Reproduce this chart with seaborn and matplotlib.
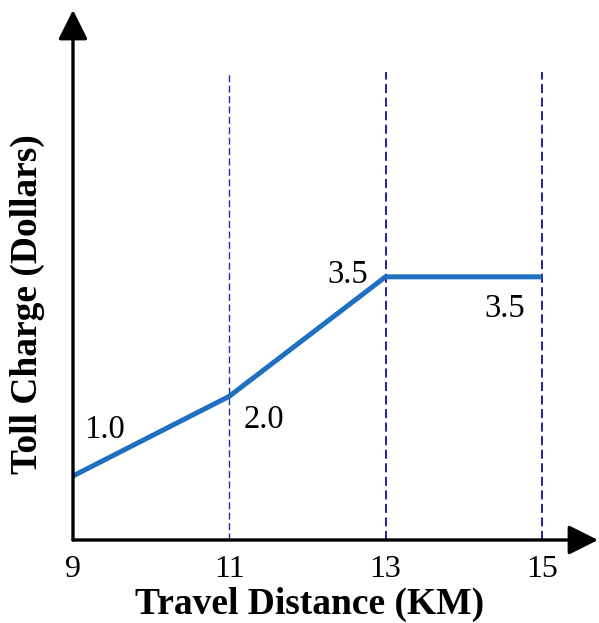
import numpy as np
import pandas as pd
import matplotlib
matplotlib.use('Agg')
import matplotlib.pyplot as plt
import seaborn as sns

# data
distance = [9, 11, 13, 15]
toll = [1.0, 2.0, 3.5, 3.5]
toll_labels = ['1.0', '2.0', '3.5', '3.5']
tick_values = [9, 11, 13, 15]
guide_x = [11, 13, 15]

sns.set_theme(style='white')
plt.rcParams['font.family'] = ['Liberation Serif', 'DejaVu Serif']
plt.rcParams.update({'text.color': 'black', 'axes.labelcolor': 'black',
                     'xtick.color': 'black', 'ytick.color': 'black'})

df = pd.DataFrame({'distance': distance, 'toll': toll})

fig = plt.figure(figsize=(5.99, 6.23), dpi=100)
ax = fig.add_axes([73 / 599, 83 / 623, 525 / 599, 530 / 623])

# dashed guides
ax.vlines(guide_x, 0.196, 6.07, colors=['#2a2aa6', '#10109a', '#10109a'],
          linestyles=(0, (5, 2.5)), linewidth=[1.0, 1.3, 1.3])

sns.lineplot(data=df, x='distance', y='toll', ax=ax, color='#1f70c1',
             linewidth=3.6, solid_capstyle='butt', clip_on=False)

# point labels
offsets = [(0.4, 0.58), (0.45, -0.3), (-0.48, 0.02), (-0.47, -0.4)]
for x, y, s, (dx, dy) in zip(distance, toll, toll_labels, offsets):
    ax.text(x + dx, y + dy, s, fontsize=23.5, ha='center', va='center', color='black')

ax.set_xlim(9, 15.72)
ax.set_ylim(0.196, 6.85)

for sp in ax.spines.values():
    sp.set_visible(False)

# axis arrows
arrow = dict(arrowstyle='-|>,head_length=0.9,head_width=0.45', mutation_scale=20,
             lw=2.4, color='black', shrinkA=0, shrinkB=0)
ax.annotate('', xy=(1.0, 0), xytext=(0, 0), xycoords='axes fraction', arrowprops=arrow)
ax.annotate('', xy=(0, 1.0), xytext=(0, 0), xycoords='axes fraction', arrowprops=arrow)

ax.set_xticks(tick_values)
ax.set_xticklabels([str(t) for t in tick_values])
ax.set_yticks([])
ax.tick_params(axis='x', length=0, pad=11, labelsize=23, labelcolor='black')

ax.set_xlabel('Travel Distance (KM)', fontsize=27, fontweight='bold', color='black')
ax.xaxis.set_label_coords(0.451, -0.088)
ax.set_ylabel('Toll Charge (Dollars)', fontsize=27, fontweight='bold', color='black')
ax.yaxis.set_label_coords(-0.054, 0.445)

fig.savefig('out.png', dpi=100)
